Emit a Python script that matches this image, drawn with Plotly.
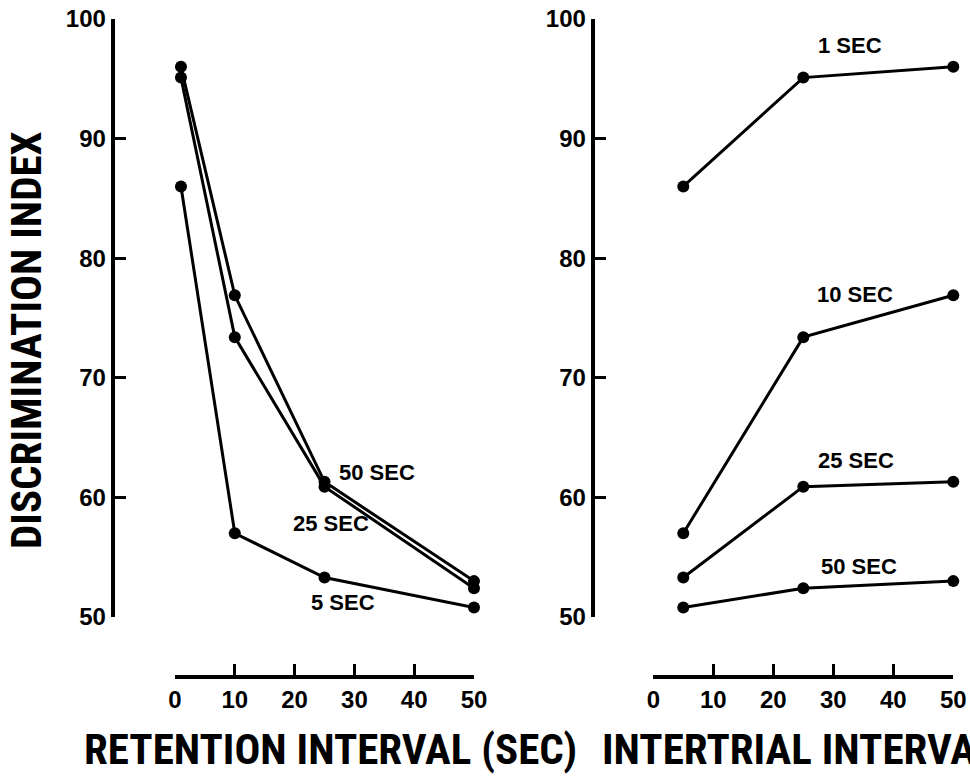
import plotly.graph_objects as go

# ---- data ----
retention_x = [1, 10, 25, 50]          # left panel x (retention interval, sec)
intertrial_x = [5, 25, 50]             # right panel x (intertrial interval, sec)

# left panel: one line per intertrial interval
iti_names = ["5 SEC", "25 SEC", "50 SEC"]
iti_5 = [86.0, 57.0, 53.3, 50.8]
iti_25 = [95.1, 73.4, 60.9, 52.4]
iti_50 = [96.0, 76.9, 61.3, 53.0]

# right panel: one line per retention interval
ret_names = ["1 SEC", "10 SEC", "25 SEC", "50 SEC"]
ret_1 = [86.0, 95.1, 96.0]
ret_10 = [57.0, 73.4, 76.9]
ret_25 = [53.3, 60.9, 61.3]
ret_50 = [50.8, 52.4, 53.0]

y_ticks = [50, 60, 70, 80, 90, 100]
x_ticks = [0, 10, 20, 30, 40, 50]

# ---- layout helpers ----
W, H = 970, 777
def fx(px):
    return px / W
def fy(py):
    return 1 - py / H

NARROW = ("Roboto Condensed, Noto Sans Condensed, Open Sans Condensed, Liberation Sans Narrow, "
          "DejaVu Sans Condensed, Liberation Sans, sans-serif")
SANS = "Liberation Sans, Arial, sans-serif"

fig = go.Figure()

line_style = dict(color="black", width=3)
marker_style = dict(color="black", size=12, symbol="circle")

for name, ys in zip(iti_names, [iti_5, iti_25, iti_50]):
    fig.add_trace(go.Scatter(x=retention_x, y=ys, mode="lines+markers", name=name,
                             line=line_style, marker=marker_style, cliponaxis=False,
                             xaxis="x", yaxis="y", showlegend=False))

for name, ys in zip(ret_names, [ret_1, ret_10, ret_25, ret_50]):
    fig.add_trace(go.Scatter(x=intertrial_x, y=ys, mode="lines+markers", name=name,
                             line=line_style, marker=marker_style, cliponaxis=False,
                             xaxis="x2", yaxis="y2", showlegend=False))

tickfont = dict(family=SANS, size=24, color="black", weight=700)

def xaxis_cfg(domain):
    return dict(domain=domain, range=[0, 50], anchor="free", position=fy(676.7),
                showline=True, linewidth=4, linecolor="black",
                ticks="inside", ticklen=11, tickwidth=3, tickcolor="black",
                tickvals=x_ticks, ticktext=[str(v) for v in x_ticks],
                tickfont=tickfont, showgrid=False, zeroline=False, fixedrange=True,
                automargin=False)

def yaxis_cfg(pos):
    return dict(domain=[fy(617), fy(19)], range=[50, 100], anchor="free", position=pos,
                showline=True, linewidth=4, linecolor="black",
                ticks="inside", ticklen=11, tickwidth=3, tickcolor="black",
                tickvals=y_ticks, ticktext=[str(v) for v in y_ticks],
                tickfont=tickfont, showgrid=False, zeroline=False, fixedrange=True,
                automargin=False)

label_font = dict(family=SANS, size=22, color="black", weight=700)

annotations = []
# left panel curve labels (data coords)
for txt, x, y in [("50 SEC", 33.8, 62.1), ("25 SEC", 26.1, 57.8), ("5 SEC", 28.1, 51.2)]:
    annotations.append(dict(text=txt, x=x, y=y, xref="x", yref="y", showarrow=False,
                            xanchor="center", yanchor="middle", font=label_font))
# right panel curve labels
for txt, x, y in [("1 SEC", 32.8, 97.8), ("10 SEC", 33.6, 77.0),
                  ("25 SEC", 33.8, 63.1), ("50 SEC", 34.3, 54.2)]:
    annotations.append(dict(text=txt, x=x, y=y, xref="x2", yref="y2", showarrow=False,
                            xanchor="center", yanchor="middle", font=label_font))

title_font = dict(family=NARROW, size=43, color="black", weight=700)
annotations.append(dict(text="DISCRIMINATION INDEX", x=fx(26), y=fy(340), xref="paper", yref="paper",
                        xanchor="center", yanchor="middle", textangle=-90, showarrow=False,
                        font=dict(family=NARROW, size=43, color="black", weight=700)))
annotations.append(dict(text="RETENTION INTERVAL (SEC)", x=fx(330), y=fy(749), xref="paper", yref="paper",
                        xanchor="center", yanchor="middle", showarrow=False, font=title_font))
annotations.append(dict(text="INTERTRIAL INTERVAL (SEC)", x=fx(600), y=fy(749), xref="paper", yref="paper",
                        xanchor="left", yanchor="middle", showarrow=False, font=title_font))

fig.update_layout(
    width=W, height=H,
    margin=dict(l=0, r=0, t=0, b=0, pad=0, autoexpand=False),
    paper_bgcolor="white", plot_bgcolor="white",
    xaxis=xaxis_cfg([fx(175), fx(474)]),
    yaxis=yaxis_cfg(fx(112.7)),
    xaxis2=xaxis_cfg([fx(653.3), fx(953.3)]),
    yaxis2=yaxis_cfg(fx(592.7)),
    annotations=annotations,
    showlegend=False,
)

fig.write_html("out.html")
